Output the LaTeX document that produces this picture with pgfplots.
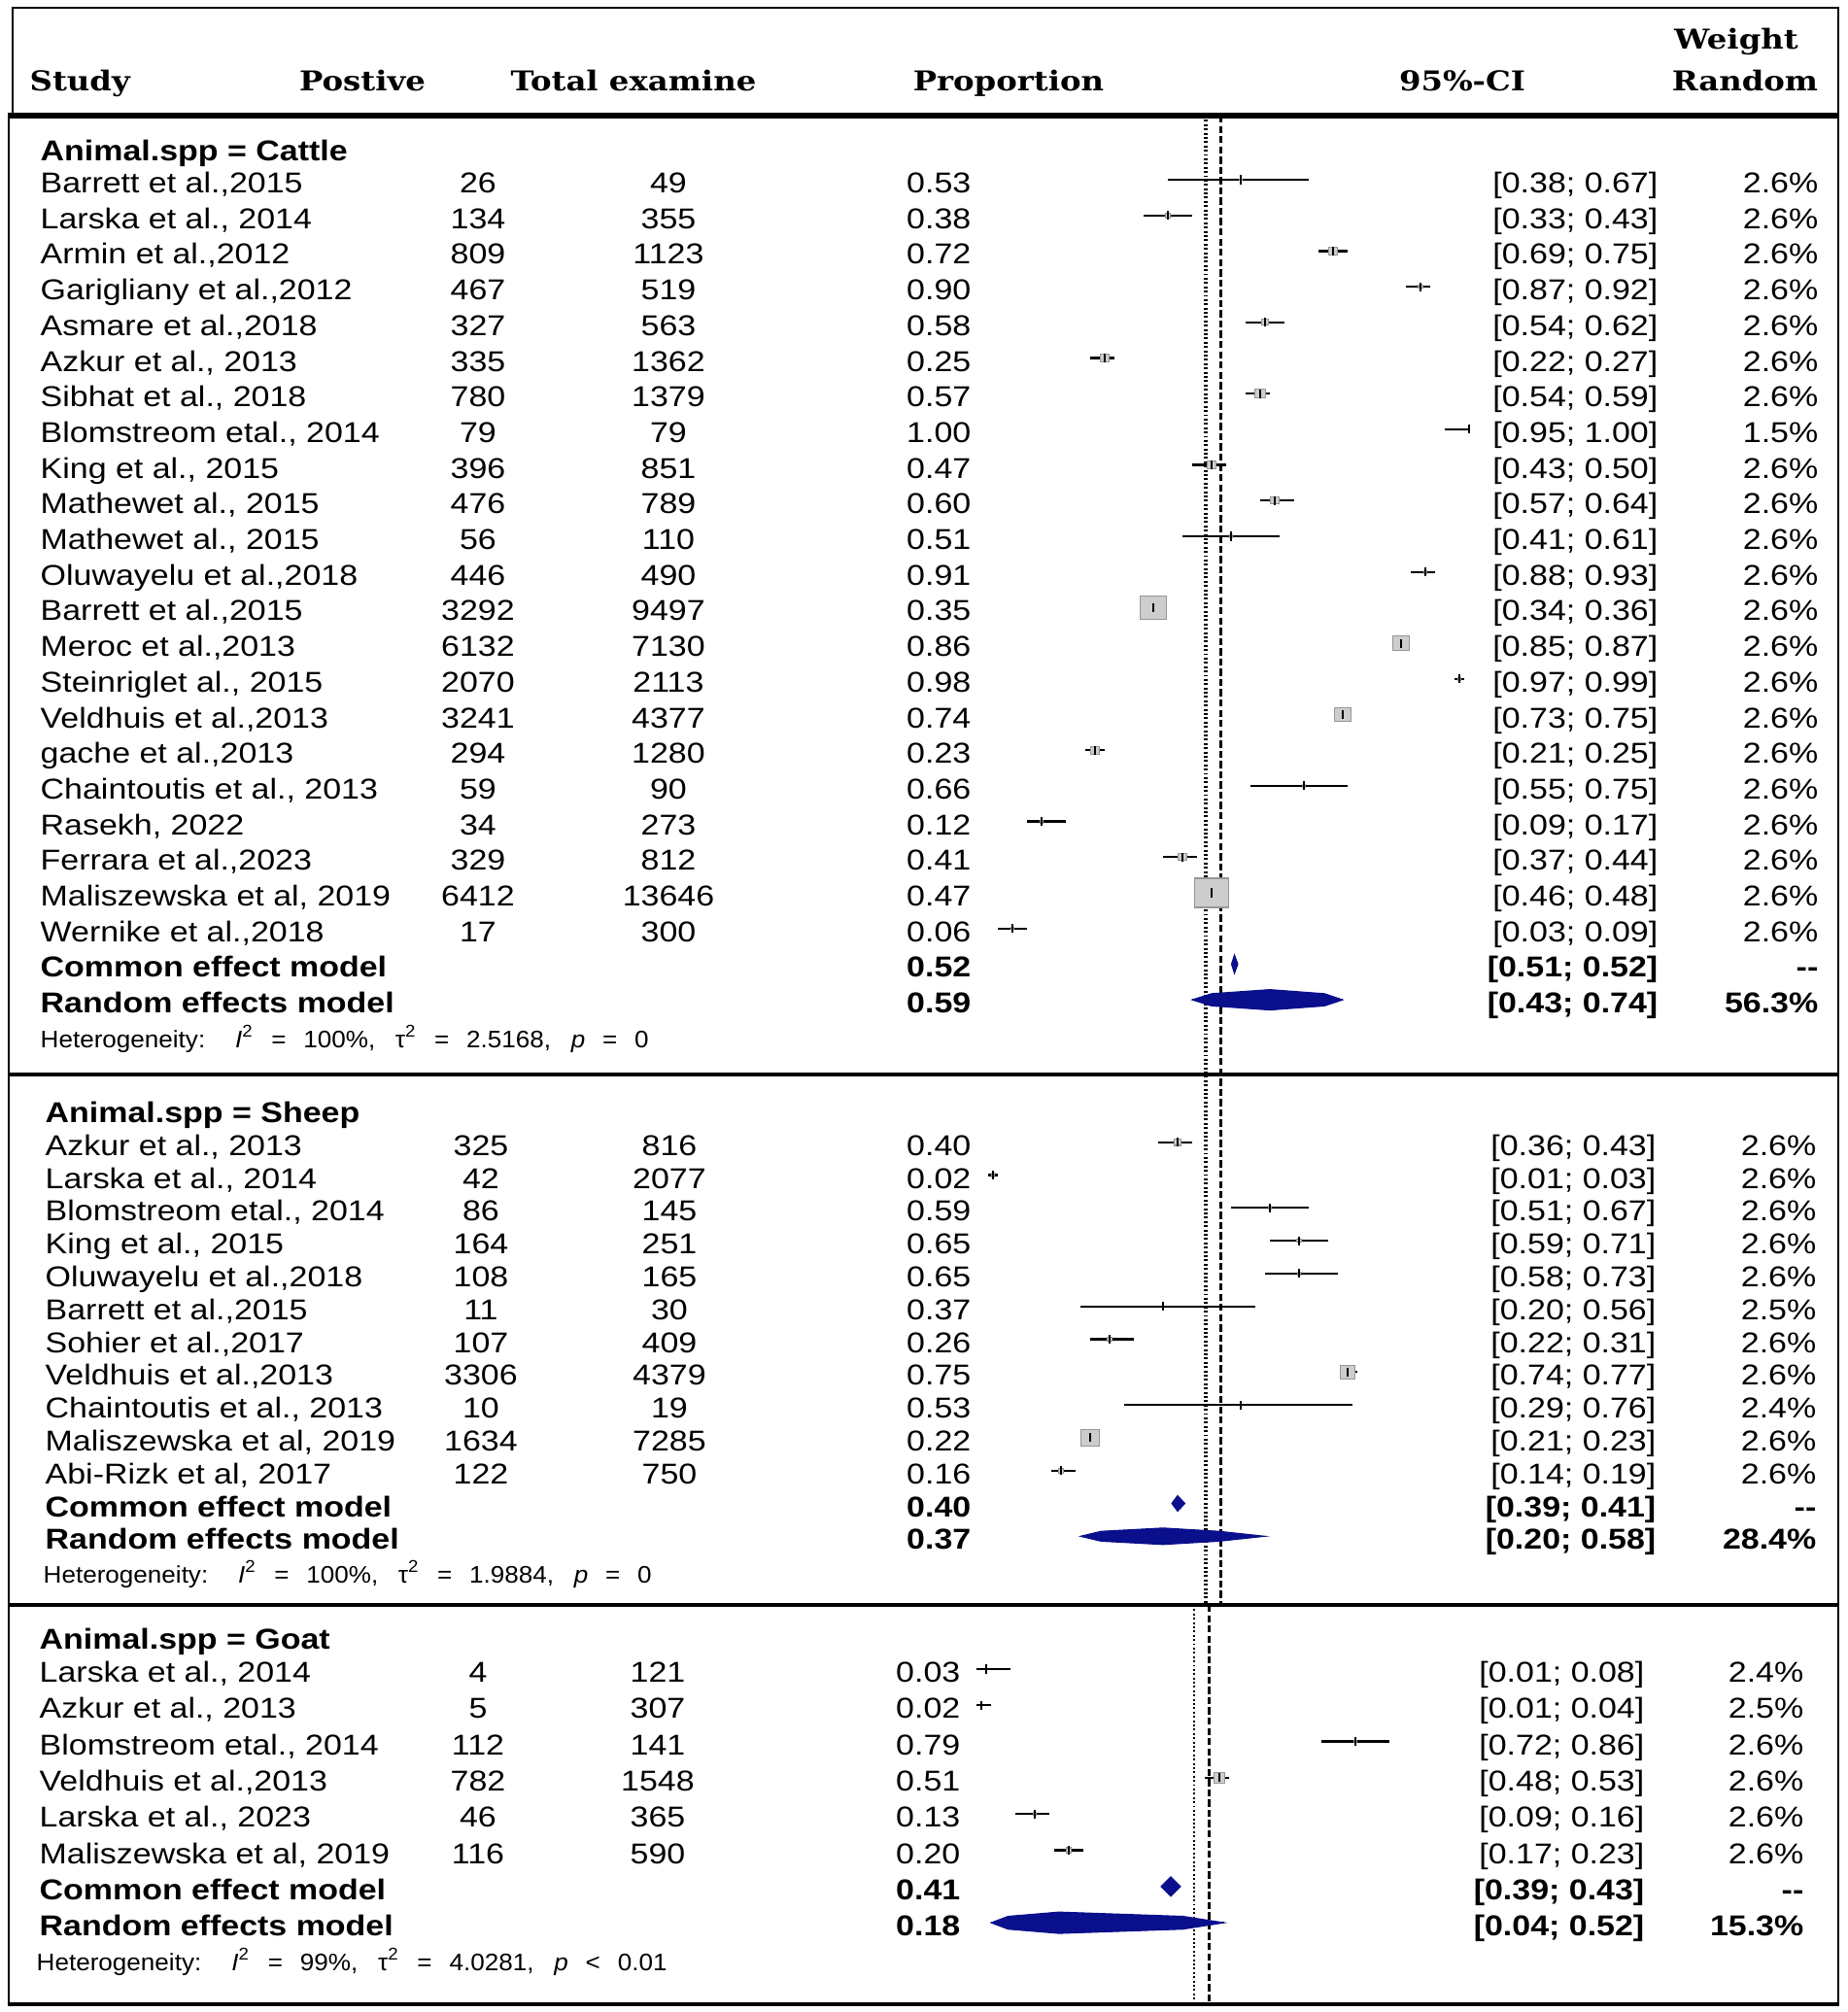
\documentclass[border=0pt]{standalone}
\usepackage{fontspec}
\setmainfont{Liberation Sans}[FakeStretch=1.15]
\newfontfamily\headfont{DejaVu Serif}[FakeStretch=1.15]
\newfontfamily\hetfont{Liberation Sans}[FakeStretch=1.06]
\usepackage{pgfplots}
\usepackage{pgfplotstable}
\pgfplotsset{compat=1.18}
\definecolor{dblue}{RGB}{10,15,140}
\definecolor{sqfill}{RGB}{205,205,205}
\definecolor{sqdraw}{RGB}{150,150,150}

% forest data: p lo hi y(line, image px) h(square height, px)
\pgfplotstableread{
p lo hi y h
0.53 0.38 0.67 185.0 1.8
0.38 0.33 0.43 221.7 4.7
0.72 0.69 0.75 258.4 7.8
0.90 0.87 0.92 295.1 3.5
0.58 0.54 0.62 331.8 6.0
0.25 0.22 0.27 368.5 8.2
0.57 0.54 0.59 405.2 9.5
1.00 0.95 1.00 441.9 1.0
0.47 0.43 0.50 478.6 7.5
0.60 0.57 0.64 515.3 7.1
0.51 0.41 0.61 552.0 2.7
0.91 0.88 0.93 588.7 3.3
0.35 0.34 0.36 625.4 23.9
0.86 0.85 0.87 662.1 15.1
0.98 0.97 0.99 698.8 3.3
0.74 0.73 0.75 735.5 14.9
0.23 0.21 0.25 772.2 7.8
0.66 0.55 0.75 808.9 2.3
0.12 0.09 0.17 845.6 2.8
0.41 0.37 0.44 882.3 7.2
0.47 0.46 0.48 919.0 30.0
0.06 0.03 0.09 955.7 2.1
}\cattle
\pgfplotstableread{
p lo hi y h
0.40 0.36 0.43 1175.7 6.6
0.02 0.01 0.03 1209.5 3.0
0.59 0.51 0.67 1243.3 2.8
0.65 0.59 0.71 1277.1 3.6
0.65 0.58 0.73 1310.9 2.9
0.37 0.20 0.56 1344.7 1.3
0.26 0.22 0.31 1378.5 4.2
0.75 0.74 0.77 1412.3 13.6
0.53 0.29 0.76 1446.1 1.0
0.22 0.21 0.23 1479.9 16.7
0.16 0.14 0.19 1513.7 4.8
}\sheep
\pgfplotstableread{
p lo hi y h
0.03 0.01 0.08 1718.0 1.0
0.02 0.01 0.04 1755.3 1.3
0.79 0.72 0.86 1792.6 2.6
0.51 0.48 0.53 1829.9 10.3
0.13 0.09 0.16 1867.2 3.4
0.20 0.17 0.23 1904.5 5.1
}\goat

\newcommand{\forest}[1]{%
  \addplot[scatter, only marks, mark=square*,
    scatter/use mapped color={draw=sqdraw, fill=sqfill},
    mark options={xscale=1.15, line width=0.3pt},
    visualization depends on={\thisrow{h}\as\hh},
    scatter/@pre marker code/.append style={/tikz/mark size=0.1423*\hh}]
    table[x=p, y=y] {#1};
  \addplot[draw=none, mark=none,
    error bars/.cd, x dir=both, x explicit, error mark=none,
    error bar style={draw=black, solid, line width=0.65pt}]
    table[x=p, y=y, x error plus expr=\thisrow{hi}-\thisrow{p},
          x error minus expr=\thisrow{p}-\thisrow{lo}] {#1};
  \addplot[only marks, mark=|, mark size=1.3pt,
    mark options={draw=black, line width=0.75pt}]
    table[x=p, y=y] {#1};
}

\tikzset{
  L/.style={anchor=base west, inner sep=0pt},
  C/.style={anchor=base, inner sep=0pt},
  R/.style={anchor=base east, inner sep=0pt},
  rw/.style={yshift=-0.3mm},
  hd/.style={font={\headfont\bfseries\fontsize{8pt}{9.6pt}\selectfont}},
}

\newcommand{\RowC}[7]{%
  \node[L,rw] at (axis cs:41,#1) {#2};
  \node[C,rw] at (axis cs:492,#1) {#3};
  \node[C,rw] at (axis cs:688,#1) {#4};
  \node[R,rw] at (axis cs:1000,#1) {#5};
  \node[R,rw] at (axis cs:1707,#1) {#6};
  \node[R,rw] at (axis cs:1872,#1) {#7};
}
\newcommand{\RowS}[7]{%
  \node[L,rw] at (axis cs:46,#1) {#2};
  \node[C,rw] at (axis cs:495,#1) {#3};
  \node[C,rw] at (axis cs:689,#1) {#4};
  \node[R,rw] at (axis cs:1000,#1) {#5};
  \node[R,rw] at (axis cs:1705,#1) {#6};
  \node[R,rw] at (axis cs:1870,#1) {#7};
}
\newcommand{\RowG}[7]{%
  \node[L,rw] at (axis cs:40,#1) {#2};
  \node[C,rw] at (axis cs:492,#1) {#3};
  \node[C,rw] at (axis cs:677,#1) {#4};
  \node[R,rw] at (axis cs:989,#1) {#5};
  \node[R,rw] at (axis cs:1693,#1) {#6};
  \node[R,rw] at (axis cs:1857,#1) {#7};
}
\newcommand{\het}[2]{\makebox[#1][s]{\hetfont\fontsize{7pt}{8.4pt}\selectfont #2}}

\begin{document}
\fontsize{8.4pt}{10pt}\selectfont
\begin{tikzpicture}
\useasboundingbox (0,0) rectangle (190.2mm,207.1mm);
\fill[white] (0,0) rectangle (190.2mm,207.1mm);
\pgfplotsset{base/.style={scale only axis, width=190.2mm, height=207.1mm,
  at={(0,0)}, anchor=south west, ymin=0, ymax=2071, y dir=reverse,
  hide axis, clip=false}}

% ---------- frame and text (image pixel units) ----------
\begin{axis}[base, xmin=0, xmax=1902]
\addplot[black, line width=0.7pt] coordinates {(13,119) (13,8) (1892,8) (1892,119)};
\addplot[black, line width=1.5pt] coordinates {(8,119) (1893,119)};
\addplot[black, line width=0.7pt] coordinates {(9,119) (9,2063)};
\addplot[black, line width=0.7pt] coordinates {(1892,119) (1892,2063)};
\addplot[black, line width=1.3pt] coordinates {(8,1106) (1893,1106)};
\addplot[black, line width=1.3pt] coordinates {(8,1652) (1893,1652)};
\addplot[black, line width=1.0pt] coordinates {(8,2063) (1893,2063)};

\node[L,hd] at (axis cs:30,93) {Study};
\node[C,hd] at (axis cs:373,93) {Postive};
\node[C,hd] at (axis cs:652,93) {Total examine};
\node[C,hd] at (axis cs:1038,93) {Proportion};
\node[C,hd] at (axis cs:1505,93) {95\%-CI};
\node[C,hd] at (axis cs:1787,50) {Weight};
\node[C,hd] at (axis cs:1796,93) {Random};

% Cattle
\node[L,font=\bfseries] at (axis cs:41,165) {Animal.spp = Cattle};
\RowC{195.5}{Barrett et al.,2015}{26}{49}{0.53}{[0.38; 0.67]}{2.6\%}
\RowC{232.2}{Larska et al., 2014}{134}{355}{0.38}{[0.33; 0.43]}{2.6\%}
\RowC{268.9}{Armin et al.,2012}{809}{1123}{0.72}{[0.69; 0.75]}{2.6\%}
\RowC{305.6}{Garigliany et al.,2012}{467}{519}{0.90}{[0.87; 0.92]}{2.6\%}
\RowC{342.3}{Asmare et al.,2018}{327}{563}{0.58}{[0.54; 0.62]}{2.6\%}
\RowC{379.0}{Azkur et al., 2013}{335}{1362}{0.25}{[0.22; 0.27]}{2.6\%}
\RowC{415.7}{Sibhat et al., 2018}{780}{1379}{0.57}{[0.54; 0.59]}{2.6\%}
\RowC{452.4}{Blomstreom etal., 2014}{79}{79}{1.00}{[0.95; 1.00]}{1.5\%}
\RowC{489.1}{King et al., 2015}{396}{851}{0.47}{[0.43; 0.50]}{2.6\%}
\RowC{525.8}{Mathewet al., 2015}{476}{789}{0.60}{[0.57; 0.64]}{2.6\%}
\RowC{562.5}{Mathewet al., 2015}{56}{110}{0.51}{[0.41; 0.61]}{2.6\%}
\RowC{599.2}{Oluwayelu et al.,2018}{446}{490}{0.91}{[0.88; 0.93]}{2.6\%}
\RowC{635.9}{Barrett et al.,2015}{3292}{9497}{0.35}{[0.34; 0.36]}{2.6\%}
\RowC{672.6}{Meroc et al.,2013}{6132}{7130}{0.86}{[0.85; 0.87]}{2.6\%}
\RowC{709.3}{Steinriglet al., 2015}{2070}{2113}{0.98}{[0.97; 0.99]}{2.6\%}
\RowC{746.0}{Veldhuis et al.,2013}{3241}{4377}{0.74}{[0.73; 0.75]}{2.6\%}
\RowC{782.7}{gache et al.,2013}{294}{1280}{0.23}{[0.21; 0.25]}{2.6\%}
\RowC{819.4}{Chaintoutis et al., 2013}{59}{90}{0.66}{[0.55; 0.75]}{2.6\%}
\RowC{856.1}{Rasekh, 2022}{34}{273}{0.12}{[0.09; 0.17]}{2.6\%}
\RowC{892.8}{Ferrara et al.,2023}{329}{812}{0.41}{[0.37; 0.44]}{2.6\%}
\RowC{929.5}{Maliszewska et al, 2019}{6412}{13646}{0.47}{[0.46; 0.48]}{2.6\%}
\RowC{966.2}{Wernike et al.,2018}{17}{300}{0.06}{[0.03; 0.09]}{2.6\%}
\RowC{1002.9}{\textbf{Common effect model}}{}{}{\textbf{0.52}}{\textbf{[0.51; 0.52]}}{\textbf{-{}-}}
\RowC{1039.6}{\textbf{Random effects model}}{}{}{\textbf{0.59}}{\textbf{[0.43; 0.74]}}{\textbf{56.3\%}}
\node[L] at (axis cs:41,1078) {\het{62.6mm}{Heterogeneity: \textit{I}\textsuperscript{2} = 100\%, τ\textsuperscript{2} = 2.5168, \textit{p} = 0}};

% Sheep
\node[L,font=\bfseries] at (axis cs:46,1155) {Animal.spp = Sheep};
\RowS{1186.2}{Azkur et al., 2013}{325}{816}{0.40}{[0.36; 0.43]}{2.6\%}
\RowS{1220.0}{Larska et al., 2014}{42}{2077}{0.02}{[0.01; 0.03]}{2.6\%}
\RowS{1253.8}{Blomstreom etal., 2014}{86}{145}{0.59}{[0.51; 0.67]}{2.6\%}
\RowS{1287.6}{King et al., 2015}{164}{251}{0.65}{[0.59; 0.71]}{2.6\%}
\RowS{1321.4}{Oluwayelu et al.,2018}{108}{165}{0.65}{[0.58; 0.73]}{2.6\%}
\RowS{1355.2}{Barrett et al.,2015}{11}{30}{0.37}{[0.20; 0.56]}{2.5\%}
\RowS{1389.0}{Sohier et al.,2017}{107}{409}{0.26}{[0.22; 0.31]}{2.6\%}
\RowS{1422.8}{Veldhuis et al.,2013}{3306}{4379}{0.75}{[0.74; 0.77]}{2.6\%}
\RowS{1456.6}{Chaintoutis et al., 2013}{10}{19}{0.53}{[0.29; 0.76]}{2.4\%}
\RowS{1490.4}{Maliszewska et al, 2019}{1634}{7285}{0.22}{[0.21; 0.23]}{2.6\%}
\RowS{1524.2}{Abi-Rizk et al, 2017}{122}{750}{0.16}{[0.14; 0.19]}{2.6\%}
\RowS{1558.0}{\textbf{Common effect model}}{}{}{\textbf{0.40}}{\textbf{[0.39; 0.41]}}{\textbf{-{}-}}
\RowS{1591.8}{\textbf{Random effects model}}{}{}{\textbf{0.37}}{\textbf{[0.20; 0.58]}}{\textbf{28.4\%}}
\node[L] at (axis cs:44,1629) {\het{62.6mm}{Heterogeneity: \textit{I}\textsuperscript{2} = 100\%, τ\textsuperscript{2} = 1.9884, \textit{p} = 0}};

% Goat
\node[L,font=\bfseries] at (axis cs:40,1697.5) {Animal.spp = Goat};
\RowG{1728.5}{Larska et al., 2014}{4}{121}{0.03}{[0.01; 0.08]}{2.4\%}
\RowG{1765.8}{Azkur et al., 2013}{5}{307}{0.02}{[0.01; 0.04]}{2.5\%}
\RowG{1803.1}{Blomstreom etal., 2014}{112}{141}{0.79}{[0.72; 0.86]}{2.6\%}
\RowG{1840.4}{Veldhuis et al.,2013}{782}{1548}{0.51}{[0.48; 0.53]}{2.6\%}
\RowG{1877.7}{Larska et al., 2023}{46}{365}{0.13}{[0.09; 0.16]}{2.6\%}
\RowG{1915.0}{Maliszewska et al, 2019}{116}{590}{0.20}{[0.17; 0.23]}{2.6\%}
\RowG{1952.3}{\textbf{Common effect model}}{}{}{\textbf{0.41}}{\textbf{[0.39; 0.43]}}{\textbf{-{}-}}
\RowG{1989.6}{\textbf{Random effects model}}{}{}{\textbf{0.18}}{\textbf{[0.04; 0.52]}}{\textbf{15.3\%}}
\node[L] at (axis cs:37,2028) {\het{64.9mm}{Heterogeneity: \textit{I}\textsuperscript{2} = 99\%, τ\textsuperscript{2} = 4.0281, \textit{p} < 0.01}};
\end{axis}

% ---------- forest: cattle and sheep (proportion units) ----------
\begin{axis}[base, xmin=-2.024, xmax=1.78]
\addplot[black, line width=0.9pt, dash pattern=on 0.55pt off 0.7pt] coordinates {(0.458,119) (0.458,1652)};
\addplot[black, line width=0.65pt, dash pattern=on 2.1pt off 0.9pt] coordinates {(0.489,119) (0.489,1652)};
\forest{\cattle}
\forest{\sheep}
% cattle common / random
\addplot[fill=dblue, draw=dblue, line width=0.3pt] coordinates {(0.511,992.4) (0.517,982.9) (0.524,992.4) (0.517,1001.9)} -- cycle;
\addplot[black, line width=0.45pt] coordinates {(0.43,1029.1) (0.74,1029.1)};
\addplot[fill=dblue, draw=dblue, line width=0.3pt] coordinates {(0.43,1029.1) (0.47,1022.8) (0.59,1018.6) (0.7025,1022.8) (0.74,1029.1) (0.7025,1035.4) (0.59,1039.6) (0.47,1035.4)} -- cycle;
% sheep common / random
\addplot[fill=dblue, draw=dblue, line width=0.3pt] coordinates {(0.388,1547.5) (0.40,1539.5) (0.415,1547.5) (0.40,1555.5)} -- cycle;
\addplot[black, line width=0.45pt] coordinates {(0.20,1581.3) (0.58,1581.3)};
\addplot[fill=dblue, draw=dblue, line width=0.3pt] coordinates {(0.20,1581.3) (0.2425,1576.2) (0.37,1572.8) (0.485,1576.2) (0.58,1581.3) (0.485,1586.4) (0.37,1589.8) (0.2425,1586.4)} -- cycle;
\end{axis}

% ---------- forest: goat (panel shifted left in the reference) ----------
\begin{axis}[base, xmin=-2.0, xmax=1.804]
\addplot[black, line width=0.7pt, dash pattern=on 0.55pt off 0.7pt] coordinates {(0.458,1652) (0.458,2063)};
\addplot[black, line width=0.65pt, dash pattern=on 2.1pt off 0.9pt] coordinates {(0.489,1652) (0.489,2063)};
\forest{\goat}
\addplot[fill=dblue, draw=dblue, line width=0.3pt] coordinates {(0.39,1941.8) (0.41,1931.8) (0.43,1941.8) (0.41,1951.8)} -- cycle;
\addplot[black, line width=0.45pt] coordinates {(0.04,1979.1) (0.52,1979.1)};
\addplot[fill=dblue, draw=dblue, line width=0.3pt] coordinates {(0.04,1979.1) (0.075,1972.5) (0.18,1968.1) (0.435,1972.5) (0.52,1979.1) (0.435,1985.7) (0.18,1990.1) (0.075,1985.7)} -- cycle;
\end{axis}
\end{tikzpicture}
\end{document}
